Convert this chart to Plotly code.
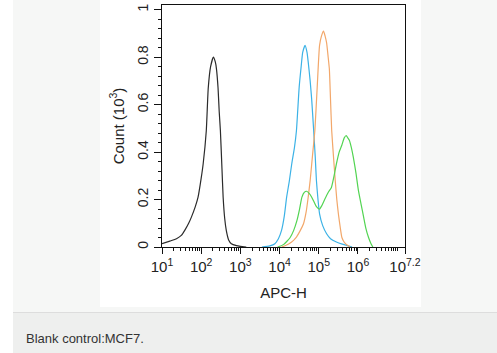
import plotly.graph_objects as go

# ---- data (log10 of APC-H, count in 10^3) ----
black_logx = [1.0, 1.2, 1.37, 1.5, 1.58, 1.68, 1.75, 1.85, 1.92, 2.0, 2.05, 2.13, 2.18, 2.24, 2.31,
              2.36, 2.39, 2.43, 2.46, 2.49, 2.53, 2.56, 2.6, 2.64, 2.7, 2.77, 2.9, 3.0, 3.15]
black_cnt = [0.014, 0.025, 0.035, 0.05, 0.07, 0.10, 0.126, 0.17, 0.21, 0.29, 0.35, 0.49, 0.67, 0.76, 0.80,
             0.78, 0.75, 0.67, 0.57, 0.49, 0.33, 0.21, 0.12, 0.07, 0.03, 0.014, 0.006, 0.003, 0.0]

blue_logx = [3.55, 3.75, 3.88, 3.97, 4.05, 4.12, 4.18, 4.25, 4.31, 4.38, 4.43, 4.50, 4.55, 4.59, 4.65,
             4.70, 4.73, 4.78, 4.82, 4.87, 4.91, 4.94, 4.98, 5.02, 5.1, 5.2, 5.3, 5.45, 5.6, 5.71, 5.85]
blue_cnt = [0.0, 0.005, 0.014, 0.035, 0.07, 0.13, 0.21, 0.28, 0.35, 0.42, 0.49, 0.674, 0.76, 0.82, 0.85,
            0.82, 0.78, 0.70, 0.62, 0.49, 0.38, 0.28, 0.20, 0.14, 0.09, 0.056, 0.035, 0.021, 0.012, 0.007, 0.0]

orange_logx = [4.05, 4.14, 4.3, 4.43, 4.53, 4.61, 4.68, 4.73, 4.78, 4.82, 4.86, 4.90, 4.96, 5.02, 5.07,
               5.12, 5.16, 5.20, 5.24, 5.27, 5.30, 5.33, 5.38, 5.42, 5.46, 5.50, 5.55, 5.59, 5.65, 5.71, 5.8]
orange_cnt = [0.0, 0.005, 0.02, 0.042, 0.07, 0.098, 0.15, 0.21, 0.28, 0.35, 0.42, 0.49, 0.674, 0.85, 0.89,
              0.91, 0.89, 0.86, 0.80, 0.75, 0.62, 0.49, 0.37, 0.28, 0.20, 0.14, 0.08, 0.04, 0.02, 0.01, 0.0]

green_logx = [3.95, 4.1, 4.27, 4.36, 4.44, 4.51, 4.57, 4.63, 4.69, 4.76, 4.82, 4.88, 4.94, 5.02, 5.08,
              5.15, 5.24, 5.32, 5.39, 5.45, 5.52, 5.59, 5.65, 5.70, 5.74, 5.78, 5.83, 5.88, 5.95, 6.01,
              6.08, 6.14, 6.2, 6.27, 6.33, 6.38]
green_cnt = [0.0, 0.01, 0.04, 0.07, 0.11, 0.16, 0.21, 0.23, 0.235, 0.225, 0.21, 0.19, 0.17, 0.16, 0.175,
             0.20, 0.23, 0.25, 0.30, 0.35, 0.40, 0.43, 0.46, 0.47, 0.46, 0.45, 0.42, 0.38, 0.31, 0.24,
             0.18, 0.13, 0.08, 0.04, 0.015, 0.0]

x_tick_exps = [1, 2, 3, 4, 5, 6, 7.2]
x_tick_text = ["10<sup>1</sup>", "10<sup>2</sup>", "10<sup>3</sup>", "10<sup>4</sup>",
               "10<sup>5</sup>", "10<sup>6</sup>", "10<sup>7.2</sup>"]
y_tick_vals = [0, 0.2, 0.4, 0.6, 0.8, 1.0]
y_tick_text = ["0", "0.2", "0.4", "0.6", "0.8", "1"]

series = [
    (black_logx, black_cnt, "#2b2b2b"),
    (blue_logx, blue_cnt, "#3cb2e6"),
    (orange_logx, orange_cnt, "#f2a76a"),
    (green_logx, green_cnt, "#52d452"),
]

W, H = 497, 353
L, R, T, B = 162, 92, 5, 106
PW, PH = W - L - R, H - T - B


def px(xp):
    return (xp - L) / PW


def py(yp):
    return (H - B - yp) / PH


fig = go.Figure()
for lx, cnt, col in series:
    fig.add_trace(go.Scatter(
        x=[10 ** v for v in lx], y=cnt, mode="lines",
        line=dict(color=col, width=1.2, shape="spline", smoothing=0.5),
        showlegend=False, hoverinfo="skip"))

minor_x = [k * 10 ** d for d in range(1, 7) for k in range(2, 10)] + [1e7]

font = "Liberation Sans, Arial, sans-serif"
fig.update_layout(
    width=W, height=H,
    margin=dict(l=L, r=R, t=T, b=B),
    paper_bgcolor="white",
    plot_bgcolor="rgba(0,0,0,0)",
    font=dict(family=font, color="#222", size=14),
    xaxis=dict(
        type="log", range=[1, 7.2],
        tickmode="array", tickvals=[10 ** e for e in x_tick_exps], ticktext=x_tick_text,
        ticks="outside", ticklen=6, tickcolor="#111",
        minor=dict(tickmode="array", tickvals=minor_x, ticks="outside", ticklen=3, tickcolor="#111"),
        showline=True, linecolor="#111", linewidth=1, mirror=True,
        showgrid=False, zeroline=False,
        tickfont=dict(size=15, color="#222"),
        title=dict(text="APC-H", font=dict(size=15, color="#222"), standoff=13),
    ),
    yaxis=dict(
        range=[0, 1.02],
        tickmode="array", tickvals=y_tick_vals, ticktext=y_tick_text,
        ticks="outside", ticklen=7, tickcolor="#111", tickangle=-90,
        minor=dict(dtick=0.04, ticks="outside", ticklen=3, tickcolor="#111"),
        showline=True, linecolor="#111", linewidth=1, mirror=True,
        showgrid=False, zeroline=False,
        tickfont=dict(size=14, color="#222"),
        title=dict(text="Count (10<sup>3</sup>)", font=dict(size=15, color="#222"), standoff=7),
    ),
    shapes=[
        dict(type="rect", xref="paper", yref="paper", layer="below",
             x0=px(13), x1=px(W), y0=py(312), y1=py(0), fillcolor="#f6f7f6", line=dict(width=0)),
        dict(type="rect", xref="paper", yref="paper", layer="below",
             x0=px(13), x1=px(W), y0=py(H), y1=py(313), fillcolor="#eeefee", line=dict(width=0)),
        dict(type="line", xref="paper", yref="paper", layer="below",
             x0=px(13), x1=px(W), y0=py(312.5), y1=py(312.5), line=dict(color="#dddddd", width=1)),
        dict(type="rect", xref="paper", yref="paper", layer="below",
             x0=px(100), x1=px(421), y0=py(307), y1=py(0), fillcolor="white", line=dict(width=0)),
    ],
    annotations=[
        dict(text="Blank control:MCF7.", xref="paper", yref="paper",
             x=px(24), y=py(338), xanchor="left", yanchor="middle", showarrow=False,
             font=dict(family=font, size=13, color="#333")),
    ],
)

fig.write_html("out.html")
